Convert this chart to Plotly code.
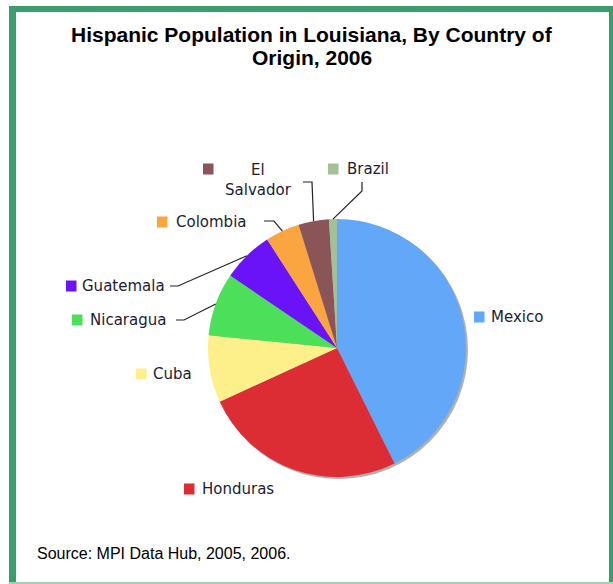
import math
import plotly.graph_objects as go

W, H = 613, 584

countries = ["Mexico", "Honduras", "Cuba", "Nicaragua", "Guatemala", "Colombia", "El Salvador", "Brazil"]
shares = [42.6, 25.5, 8.4, 7.9, 6.4, 4.3, 3.8, 1.0]
colors = ["#63A8F8", "#DC2C34", "#FDF08A", "#4CDF5A", "#6A12F8", "#FBA540", "#8B5558", "#A3C197"]
label_texts = ["Mexico", "Honduras", "Cuba", "Nicaragua", "Guatemala", "Colombia", "El<br>Salvador", "Brazil"]

# layout (pixel positions)
CX, CY, R = 337, 348, 129
# label anchor: (square left x, square center y, text left x, text center y)
label_pos = {
    "Mexico": (474, 317, 489, 317),
    "Honduras": (184, 489, 200, 489),
    "Cuba": (136, 374, 151, 374),
    "Nicaragua": (72, 320, 88, 320),
    "Guatemala": (66, 286, 80, 286),
    "Colombia": (157, 222, 174, 222),
    "El Salvador": (203, 169, 219, 180),
    "Brazil": (328, 169, 345, 169),
}
# leader lines: start point and elbow point (pixels); end point is computed from data
leaders = {
    "Nicaragua": [(176, 320), (184, 320)],
    "Guatemala": [(170, 286), (178, 286)],
    "Colombia": [(264, 221), (274, 221)],
    "El Salvador": [(303, 182), (312, 182)],
    "Brazil": [(362, 182), (362, 191)],
}


def px(x):
    return x / W


def py(y):
    return 1 - y / H


fig = go.Figure(go.Pie(
    labels=countries, values=shares, sort=False, direction="clockwise", rotation=0,
    marker=dict(colors=colors, line=dict(width=0)),
    textinfo="none", hoverinfo="label+percent", showlegend=False,
    domain=dict(x=[px(CX - R), px(CX + R)], y=[py(CY + R), py(CY - R)]),
))

shapes = []
# shadow of pie
shapes.append(dict(type="circle", xref="paper", yref="paper",
                   x0=px(CX - R + 1.5), x1=px(CX + R + 2), y0=py(CY + R + 2), y1=py(CY - R + 1.5),
                   fillcolor="#b0b0b0", line=dict(width=0), layer="below"))

# mid angles of slices from data
total = sum(shares)
cum = 0
mid = {}
for c, v in zip(countries, shares):
    a = (cum + v / 2) / total * 2 * math.pi
    mid[c] = (CX + R * math.sin(a), CY - R * math.cos(a))
    cum += v

for c, pts in leaders.items():
    allp = pts + [mid[c]]
    path = "M " + " L ".join(f"{px(x):.5f},{py(y):.5f}" for x, y in allp)
    shapes.append(dict(type="path", xref="paper", yref="paper", path=path,
                       line=dict(color="#222222", width=1.2)))

LF = dict(family="DejaVu Sans", size=15, color="#1c1c34")
annotations = []
for c, col, t in zip(countries, colors, label_texts):
    sx, sy, tx, ty = label_pos[c]
    shapes.append(dict(type="rect", xref="paper", yref="paper",
                       x0=px(sx), x1=px(sx + 10.5), y0=py(sy + 5.5), y1=py(sy - 5.5),
                       fillcolor=col, line=dict(width=0)))
    if c == "El Salvador":
        annotations.append(dict(x=px(tx + 39), y=py(ty), xref="paper", yref="paper", text=t,
                                showarrow=False, xanchor="center", yanchor="middle", align="center",
                                font=LF))
    else:
        annotations.append(dict(x=px(tx), y=py(ty), xref="paper", yref="paper", text=t,
                                showarrow=False, xanchor="left", yanchor="middle",
                                font=LF))

# green frame
G = "#3A9E6C"
shapes += [
    dict(type="rect", xref="paper", yref="paper", x0=px(9), x1=px(16), y0=py(583), y1=py(6),
         fillcolor=G, line=dict(width=0)),
    dict(type="rect", xref="paper", yref="paper", x0=px(9), x1=px(613), y0=py(12), y1=py(6),
         fillcolor=G, line=dict(width=0)),
    dict(type="rect", xref="paper", yref="paper", x0=px(609), x1=px(613), y0=py(583), y1=py(6),
         fillcolor=G, line=dict(width=0)),
    dict(type="rect", xref="paper", yref="paper", x0=px(9), x1=px(613), y0=py(584), y1=py(582),
         fillcolor="#9fd3b5", line=dict(width=0)),
]

TF = dict(family="Liberation Sans", size=21, color="#000000")
annotations.append(dict(x=px(312), y=py(35), xref="paper", yref="paper",
                        text="<b>Hispanic Population in Louisiana, By Country of</b>",
                        showarrow=False, xanchor="center", yanchor="middle", font=TF))
annotations.append(dict(x=px(312), y=py(58), xref="paper", yref="paper",
                        text="<b>Origin, 2006</b>",
                        showarrow=False, xanchor="center", yanchor="middle", font=TF))
annotations.append(dict(x=px(35), y=py(553), xref="paper", yref="paper",
                        text="Source: MPI Data Hub, 2005, 2006.",
                        showarrow=False, xanchor="left", yanchor="middle",
                        font=dict(family="Liberation Sans", size=16, color="#000000")))

fig.update_layout(width=W, height=H, margin=dict(l=0, r=0, t=0, b=0),
                  paper_bgcolor="white", plot_bgcolor="white",
                  shapes=shapes, annotations=annotations)

fig.write_html("out.html", config={"displayModeBar": False},
               post_script="document.body.style.margin='0px';document.body.style.overflow='hidden';")
